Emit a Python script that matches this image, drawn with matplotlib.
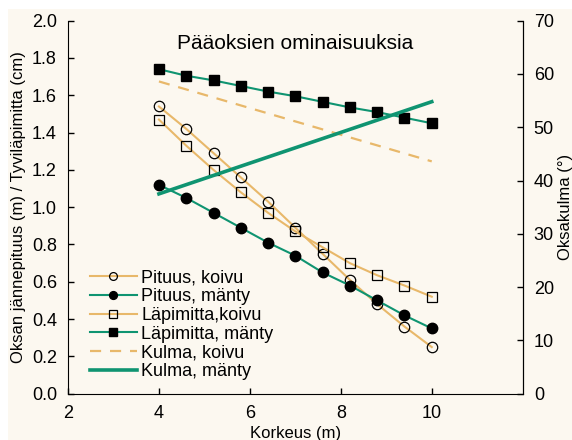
import matplotlib
matplotlib.use('Agg')
import matplotlib.pyplot as plt
from matplotlib.patches import Rectangle

plt.rcParams['font.family'] = ['Liberation Sans', 'DejaVu Sans']

# Data
korkeus = [4.0, 4.6, 5.2, 5.8, 6.4, 7.0, 7.6, 8.2, 8.8, 9.4, 10.0]
pituus_koivu = [1.54, 1.42, 1.29, 1.16, 1.03, 0.89, 0.75, 0.61, 0.48, 0.36, 0.25]
pituus_manty = [1.12, 1.05, 0.97, 0.89, 0.81, 0.74, 0.65, 0.58, 0.50, 0.42, 0.35]
lapimitta_koivu = [1.47, 1.33, 1.20, 1.08, 0.97, 0.87, 0.785, 0.70, 0.635, 0.58, 0.52]
lapimitta_manty = [1.74, 1.705, 1.68, 1.65, 1.62, 1.595, 1.565, 1.535, 1.51, 1.48, 1.45]
kulma_x = [4.0, 10.0]
kulma_koivu = [58.6, 43.6]
kulma_manty = [37.5, 54.8]

orange = '#e8b86a'
green = '#0f9471'
bg = '#fcf8f0'

fig = plt.figure(figsize=(5.72, 4.4), dpi=100)
fig.patches.append(Rectangle((8 / 572, 0), 1, 1 - 9 / 440, transform=fig.transFigure,
                             facecolor=bg, edgecolor='none', zorder=-10))
ax = fig.add_axes([68 / 572, 1 - 393.7 / 440, (522.7 - 68) / 572, (393.7 - 20.7) / 440])
ax.set_facecolor('none')
ax2 = ax.twinx()

h1, = ax.plot(korkeus, pituus_koivu, color=orange, lw=1.5, marker='o', ms=7.5,
              mfc='none', mec='black', mew=0.9, label='Pituus, koivu')
h2, = ax.plot(korkeus, pituus_manty, color=green, lw=1.5, marker='o', ms=7.5,
              mfc='black', mec='black', label='Pituus, mänty')
h3, = ax.plot(korkeus, lapimitta_koivu, color=orange, lw=1.5, marker='s', ms=7.5,
              mfc='none', mec='black', mew=0.9, label='Läpimitta,koivu')
h4, = ax.plot(korkeus, lapimitta_manty, color=green, lw=1.5, marker='s', ms=7.5,
              mfc='black', mec='black', label='Läpimitta, mänty')
h5, = ax2.plot(kulma_x, kulma_koivu, color=orange, lw=1.6, ls=(0, (5, 4)), label='Kulma, koivu')
h6, = ax2.plot(kulma_x, kulma_manty, color=green, lw=2.6, label='Kulma, mänty')

ax.set_xlim(2, 12)
ax.set_ylim(0, 2.0)
ax2.set_ylim(0, 70)
ax.set_xticks([2, 4, 6, 8, 10])
ax.set_yticks([0.0, 0.2, 0.4, 0.6, 0.8, 1.0, 1.2, 1.4, 1.6, 1.8, 2.0])
ax.set_yticklabels(['%.1f' % v for v in ax.get_yticks()])
ax2.set_yticks(range(0, 71, 10))

for a in (ax, ax2):
    a.spines['top'].set_visible(False)
    a.tick_params(direction='in', labelsize=13, length=4, width=1, pad=8)
ax2.spines['left'].set_visible(False)
ax2.spines['bottom'].set_visible(False)

ax.set_xlabel('Korkeus (m)', fontsize=12, labelpad=3)
ax.set_ylabel('Oksan jännepituus (m) / Tyviläpimitta (cm)', fontsize=12, labelpad=4)
ax2.set_ylabel('Oksakulma (°)', fontsize=12, labelpad=3)
ax.text(0.5, 0.94, 'Pääoksien ominaisuuksia', transform=ax.transAxes,
        ha='center', va='center', fontsize=15)

ax.legend([h1, h2, h3, h4, h5, h6], [h.get_label() for h in (h1, h2, h3, h4, h5, h6)],
          loc='lower left', bbox_to_anchor=(0.048, 0.036), frameon=False, fontsize=13,
          handlelength=2.6, handletextpad=0.25, labelspacing=0.1, borderpad=0,
          borderaxespad=0, markerscale=0.75)

fig.savefig('out.png', dpi=100)
